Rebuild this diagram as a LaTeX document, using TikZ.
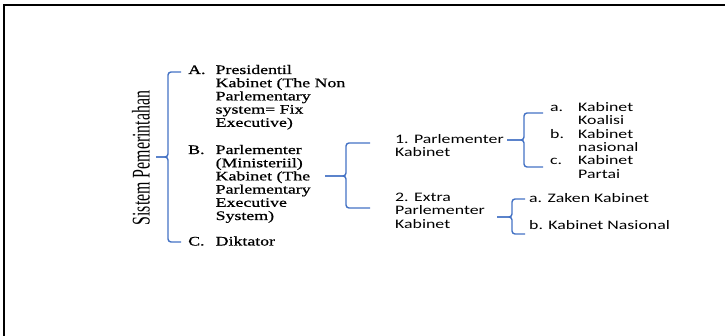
\documentclass[tikz,border=0pt]{standalone}
\usepackage{fontspec}
\setmainfont{Liberation Serif}[FakeStretch=1.37,FakeBold=0.8]
\newfontfamily\sansf{Carlito}[FakeStretch=1.37]
\newfontfamily\rotf{Liberation Serif}
\definecolor{braceblue}{HTML}{4472C4}
\newcommand{\lbl}[2]{\makebox[#1][l]{#2}}
\begin{document}
\begin{tikzpicture}[x=1pt,y=-1pt,
  bracepath/.style={draw=braceblue, line width=1.4pt, rounded corners=3pt},
  serif/.style={font=\fontsize{13}{13.2}\selectfont, inner sep=0pt, anchor=base west},
  sans/.style={font=\sansf\fontsize{13}{13.2}\selectfont, inner sep=0pt, anchor=base west},
  sansb/.style={font=\sansf\fontsize{13}{13.3}\selectfont, inner sep=0pt, anchor=base west}]
\useasboundingbox (0,0) rectangle (725,336);
\draw[line width=2pt] (3.5,336) -- (3.5,5) -- (725,5);

% rotated title
\node[inner sep=0pt, rotate=90] (title) at (141,158)
  {\rotf\fontsize{15.9}{16}\selectfont\scalebox{1}[1.6]{Sistem Pemerintahan}};

% main items
\node[serif] (A) at (188,74) {\begin{tabular}[t]{@{}l@{}l@{}}\lbl{27.5pt}{A.} & Presidentil\\ & Kabinet (The Non\\ & Parlementary\\ & system= Fix\\ & Executive)\end{tabular}};
\node[serif] (B) at (188,154) {\begin{tabular}[t]{@{}l@{}l@{}}\lbl{27.5pt}{B.} & Parlementer\\ & (Ministeriil)\\ & Kabinet (The\\ & Parlementary\\ & Executive\\ & System)\end{tabular}};
\node[serif] (C) at (188,245.5) {\begin{tabular}[t]{@{}l@{}l@{}}\lbl{27.5pt}{C.} & Diktator\end{tabular}};

% second level
\node[sans] (P1) at (395,143.3) {\begin{tabular}[t]{@{}l@{}}1. Parlementer\\Kabinet\end{tabular}};
\node[sans] (P2) at (395,201.7) {\begin{tabular}[t]{@{}l@{}}2. Extra\\Parlementer\\Kabinet\end{tabular}};

% third level
\node[sansb] (K) at (550,111.7) {\begin{tabular}[t]{@{}l@{}l@{}}\lbl{28pt}{a.} & Kabinet\\ & Koalisi\\ \lbl{28pt}{b.} & Kabinet\\ & nasional\\ \lbl{28pt}{c.} & Kabinet\\ & Partai\end{tabular}};
\node[sans] (Z) at (529,202.7) {a. Zaken Kabinet};
\node[sans] (N) at (529,229.3) {b. Kabinet Nasional};

% braces
\draw[bracepath] (181,72) -- (168,72) -- (168,157) -- (156,157);
\draw[bracepath] (181,242) -- (168,242) -- (168,157) -- (156,157);

\draw[bracepath] (370,143) -- (346,143) -- (346,176) -- (325,176);
\draw[bracepath] (370,208) -- (346,208) -- (346,176) -- (325,176);

\draw[bracepath] (543,113) -- (524,113) -- (524,140) -- (507,140);
\draw[bracepath] (543,167) -- (524,167) -- (524,140) -- (507,140);

\draw[bracepath] (525,199) -- (512,199) -- (512,217) -- (497,217);
\draw[bracepath] (525,234) -- (512,234) -- (512,217) -- (497,217);
\end{tikzpicture}
\end{document}
